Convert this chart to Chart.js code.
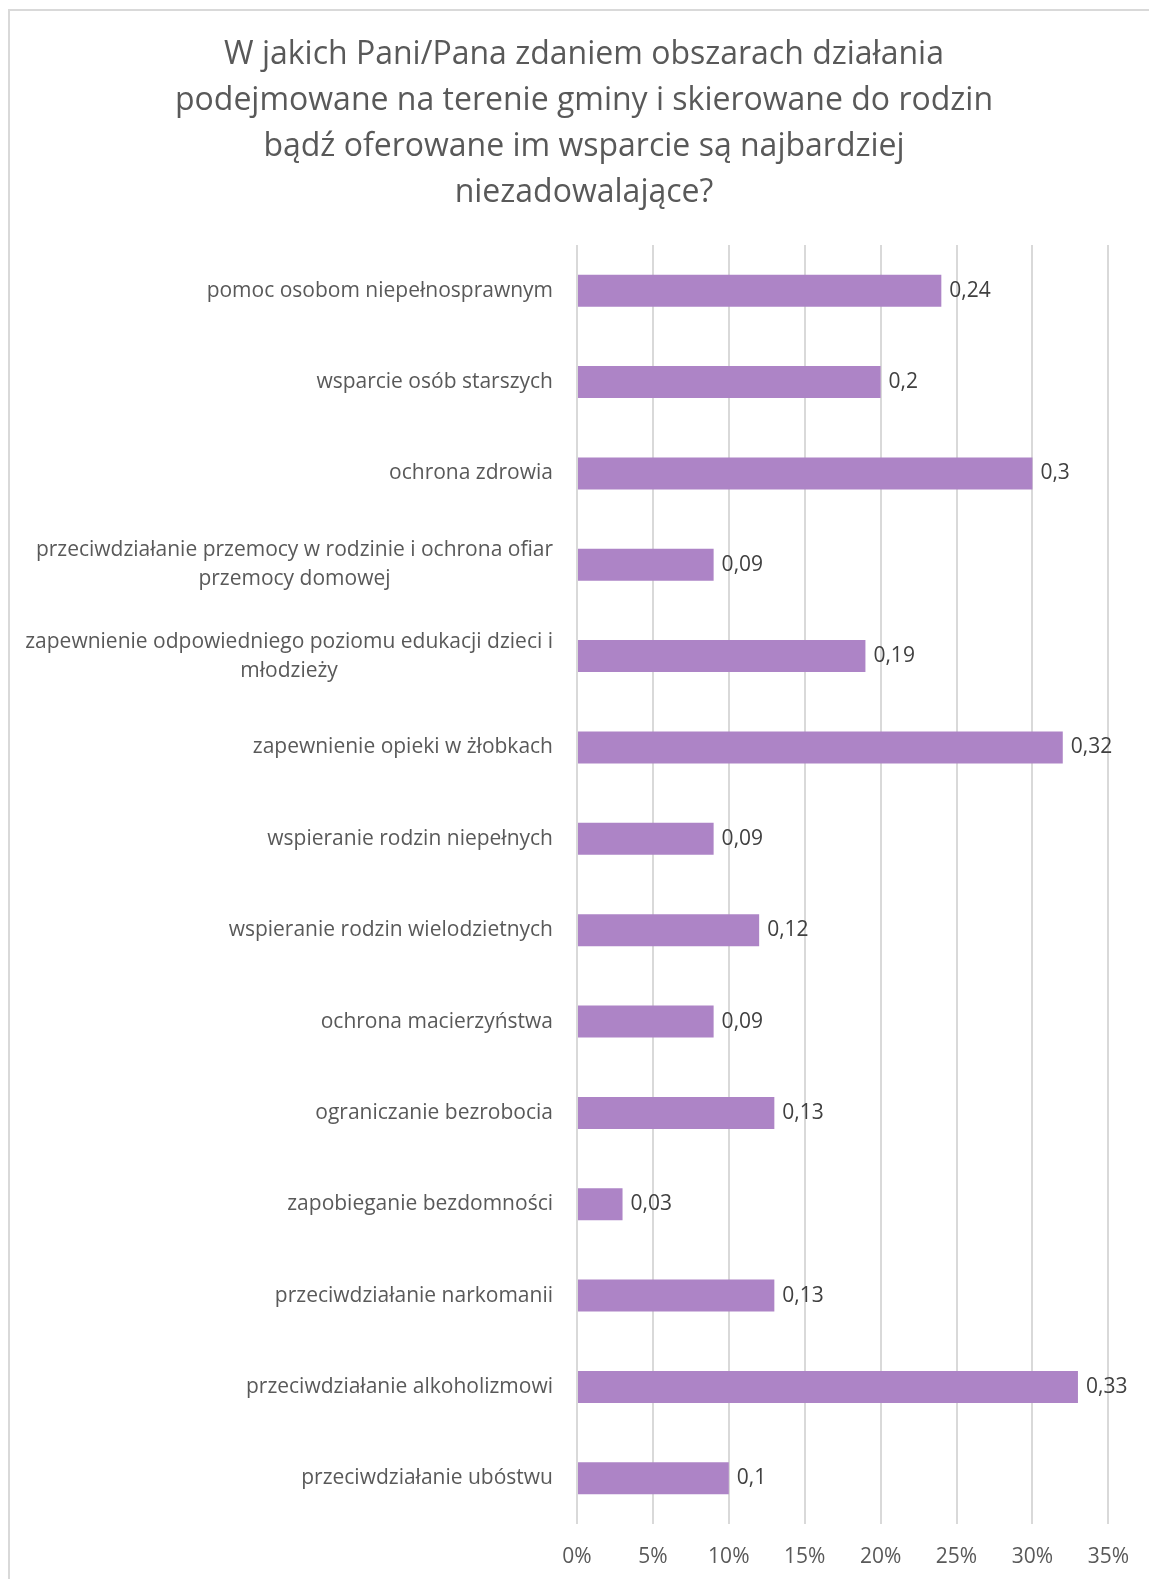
<!DOCTYPE html>
<html lang="pl">
<head>
<meta charset="utf-8">
<title>Wykres</title>
<script src="https://cdn.jsdelivr.net/npm/chart.js@4/dist/chart.umd.min.js"></script>
<style>
  html, body { margin: 0; padding: 0; background: #ffffff; }
  #wrap { width: 1149px; height: 1579px; }
</style>
</head>
<body>
<div id="wrap"><canvas id="c" width="1149" height="1579"></canvas></div>
<script>
// ---- data ----
const titleLines = [
  'W jakich Pani/Pana zdaniem obszarach działania',
  'podejmowane na terenie gminy i skierowane do rodzin',
  'bądź oferowane im wsparcie są najbardziej',
  'niezadowalające?'
];
const categories = [
  'pomoc osobom niepełnosprawnym',
  'wsparcie osób starszych',
  'ochrona zdrowia',
  ['przeciwdziałanie przemocy w rodzinie i ochrona ofiar', 'przemocy domowej'],
  ['zapewnienie odpowiedniego poziomu edukacji dzieci i', 'młodzieży'],
  'zapewnienie opieki w żłobkach',
  'wspieranie rodzin niepełnych',
  'wspieranie rodzin wielodzietnych',
  'ochrona macierzyństwa',
  'ograniczanie bezrobocia',
  'zapobieganie bezdomności',
  'przeciwdziałanie narkomanii',
  'przeciwdziałanie alkoholizmowi',
  'przeciwdziałanie ubóstwu'
];
const values = [0.24, 0.2, 0.3, 0.09, 0.19, 0.32, 0.09, 0.12, 0.09, 0.13, 0.03, 0.13, 0.33, 0.1];
const axisMin = 0;
const axisMax = 0.35;
const axisStep = 0.05;

// ---- styles ----
const FONT = '"Open Sans", "DejaVu Sans", sans-serif';
const TEXT_GREY = '#595959';
const LABEL_DARK = '#404040';
const BAR_COLOR = '#ad84c6';
const GRID_COLOR = '#d9d9d9';

const framePlugin = {
  id: 'frame',
  beforeDraw(chart) {
    const ctx = chart.ctx;
    ctx.save();
    ctx.fillStyle = '#ffffff';
    ctx.fillRect(0, 0, chart.width, chart.height);
    ctx.fillStyle = GRID_COLOR;
    ctx.fillRect(8, 9, 2, chart.height);
    ctx.fillRect(8, 9, chart.width, 2);
    ctx.restore();
  }
};

const categoryLabelPlugin = {
  id: 'catLabels',
  afterDraw(chart) {
    const ctx = chart.ctx;
    const yScale = chart.scales.y;
    const rightEdge = chart.chartArea.left - 24;
    const lineH = 29;
    ctx.save();
    ctx.font = '21px ' + FONT;
    ctx.fillStyle = TEXT_GREY;
    ctx.textAlign = 'center';
    ctx.textBaseline = 'middle';
    categories.forEach((lab, i) => {
      const lines = Array.isArray(lab) ? lab : [lab];
      const w = Math.max(...lines.map(l => ctx.measureText(l).width));
      const cx = rightEdge - w / 2;
      const cy = yScale.getPixelForValue(i);
      lines.forEach((l, j) => {
        ctx.fillText(l, cx, cy + (j - (lines.length - 1) / 2) * lineH);
      });
    });
    ctx.restore();
  }
};

const valueLabelPlugin = {
  id: 'valueLabels',
  afterDatasetsDraw(chart) {
    const ctx = chart.ctx;
    const meta = chart.getDatasetMeta(0);
    ctx.save();
    ctx.font = '21px ' + FONT;
    ctx.fillStyle = LABEL_DARK;
    ctx.textAlign = 'left';
    ctx.textBaseline = 'middle';
    meta.data.forEach((bar, i) => {
      const txt = String(values[i]).replace('.', ',');
      ctx.fillText(txt, bar.x + 8, bar.y);
    });
    ctx.restore();
  }
};

new Chart(document.getElementById('c'), {
  type: 'bar',
  data: {
    labels: categories,
    datasets: [{
      data: values,
      backgroundColor: BAR_COLOR,
      borderWidth: 0,
      barPercentage: 0.35,
      categoryPercentage: 1.0
    }]
  },
  options: {
    indexAxis: 'y',
    responsive: false,
    animation: false,
    layout: { padding: { left: 57, right: 38, top: 32, bottom: 10 } },
    plugins: {
      legend: { display: false },
      tooltip: { enabled: false },
      title: {
        display: true,
        text: titleLines,
        color: TEXT_GREY,
        font: { family: FONT, size: 32, weight: '400', lineHeight: 46 / 32 },
        padding: { top: 0, bottom: 29 }
      }
    },
    scales: {
      x: {
        position: 'bottom',
        min: axisMin,
        max: axisMax,
        grid: { color: GRID_COLOR, lineWidth: 2, drawTicks: false },
        border: { display: false },
        ticks: {
          stepSize: axisStep,
          padding: 20,
          color: TEXT_GREY,
          font: { family: FONT, size: 21 },
          callback: v => Math.round(v * 100) + '%'
        },
        afterFit(scale) { scale.height = 45; }
      },
      y: {
        type: 'category',
        grid: { display: false },
        border: { display: false },
        ticks: { display: false },
        afterFit(scale) { scale.width = 520; }
      }
    }
  },
  plugins: [framePlugin, categoryLabelPlugin, valueLabelPlugin]
});
</script>
</body>
</html>
